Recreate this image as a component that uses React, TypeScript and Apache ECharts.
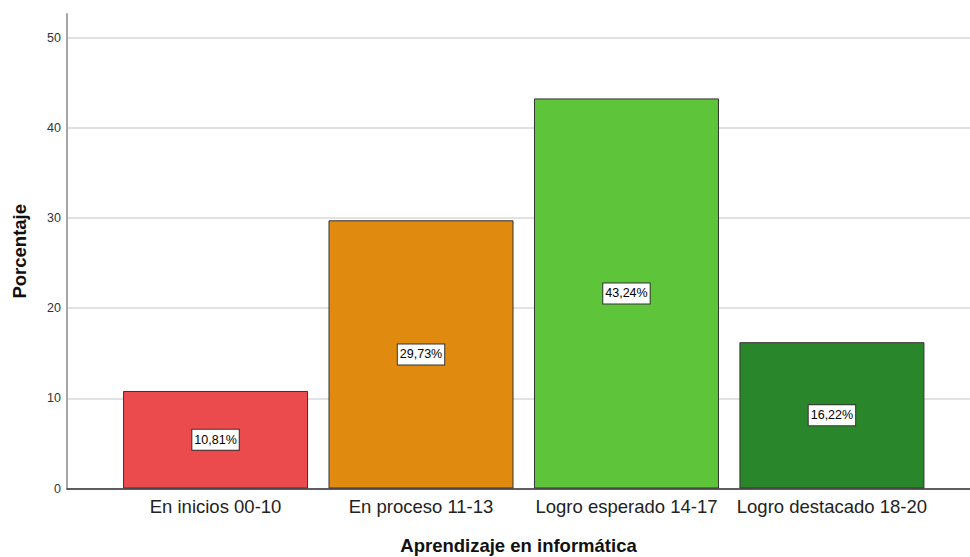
import React, { useEffect, useRef } from "react";
import * as echarts from "echarts";

// Category names, percentages and bar colours
const categories = [
  "En inicios 00-10",
  "En proceso 11-13",
  "Logro esperado 14-17",
  "Logro destacado 18-20",
];
const percentages = [10.81, 29.73, 43.24, 16.22];
const barColors = ["#EC4B4E", "#E08A10", "#5EC43A", "#2A862A"];
const yTicks = [0, 10, 20, 30, 40, 50];

const FONT = "Arial, 'Liberation Sans', sans-serif";

export default function App() {
  const ref = useRef<HTMLDivElement>(null);

  useEffect(() => {
    if (!ref.current) return;
    const chart = echarts.init(ref.current, undefined, { renderer: "svg" });

    const yMax = 52.6;

    chart.setOption({
      animation: false,
      backgroundColor: "#ffffff",
      grid: [
        // grid 0: bars and axis lines
        { left: 67, right: 0, top: 14, bottom: 68.5, outerBoundsMode: "none", containLabel: false },
        // grid 1: horizontal reference lines and tick labels (0..50)
        { left: 67, right: 0, top: 37.6, bottom: 68.5, outerBoundsMode: "none", containLabel: false },
      ],
      xAxis: [
        {
          type: "value",
          gridIndex: 0,
          min: 0.277,
          max: 4.672,
          splitLine: { show: false },
          axisTick: { show: false },
          axisLine: { show: true, lineStyle: { color: "#333333", width: 1.5 } },
          axisLabel: {
            customValues: [1, 2, 3, 4],
            formatter: (v: number) => categories[Math.round(v) - 1] ?? "",
            fontSize: 18.5,
            fontFamily: FONT,
            color: "#222222",
            margin: 8,
          },
          name: "Aprendizaje en informática",
          nameLocation: "middle",
          nameGap: 47,
          nameTextStyle: {
            fontSize: 18.5,
            fontWeight: "bold",
            fontFamily: FONT,
            color: "#111111",
          },
        },
        {
          type: "value",
          gridIndex: 1,
          min: 0,
          max: 1,
          show: false,
        },
      ],
      yAxis: [
        {
          type: "value",
          gridIndex: 0,
          min: 0,
          max: yMax,
          splitLine: { show: false },
          axisTick: { show: false },
          axisLabel: { show: false },
          axisLine: { show: true, lineStyle: { color: "#A6A6A6", width: 2 } },
          name: "Porcentaje",
          nameLocation: "middle",
          nameGap: 38,
          nameRotate: 90,
          nameTextStyle: {
            fontSize: 18.5,
            fontWeight: "bold",
            fontFamily: FONT,
            color: "#111111",
          },
        },
        {
          type: "value",
          gridIndex: 1,
          min: yTicks[0],
          max: yTicks[yTicks.length - 1],
          interval: 10,
          axisLine: { show: false },
          axisTick: { show: false },
          splitLine: { show: true, lineStyle: { color: "#D9D9D9", width: 1.5 } },
          axisLabel: {
            fontSize: 12.5,
            fontFamily: FONT,
            color: "#333333",
            margin: 6,
          },
        },
      ],
      series: [
        {
          type: "bar",
          xAxisIndex: 0,
          yAxisIndex: 0,
          barWidth: 185,
          data: percentages.map((v, i) => ({
            value: [i + 1, v],
            itemStyle: {
              color: barColors[i],
              borderColor: "#333333",
              borderWidth: 1,
            },
          })),
          label: {
            show: true,
            position: "inside",
            formatter: (p: any) => p.value[1].toFixed(2).replace(".", ",") + "%",
            fontSize: 12.5,
            fontFamily: FONT,
            color: "#000000",
            backgroundColor: "#ffffff",
            borderColor: "#333333",
            borderWidth: 1,
            padding: [4, 2, 3, 2],
          },
          z: 3,
        },
      ],
    });

    return () => chart.dispose();
  }, []);

  return (
    <div
      ref={ref}
      style={{ width: 970, height: 557, position: "absolute", left: 0, top: 0 }}
    />
  );
}
